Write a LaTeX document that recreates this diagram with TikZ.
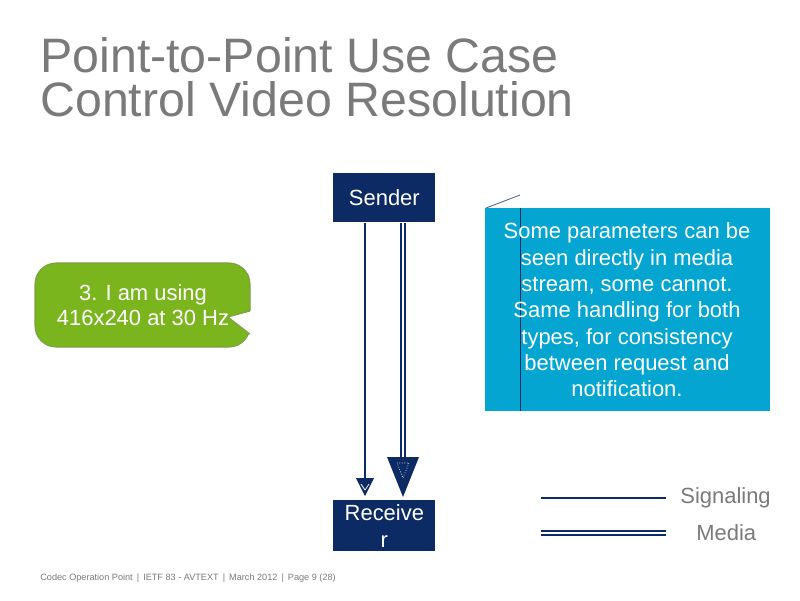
\documentclass[tikz,border=0pt]{standalone}
\usepackage{fontspec}
\setmainfont{Liberation Sans}
\definecolor{navy}{HTML}{0C2A63}
\definecolor{leaf}{HTML}{7AB51E}
\definecolor{sky}{HTML}{05A5D2}
\definecolor{titlegray}{HTML}{7A7A7A}
\begin{document}
\begin{tikzpicture}[x=0.02cm,y=-0.02cm,line join=round,>=stealth]
	\tikzset{box/.style={fill=navy,text=white,font=\fontsize{12.5}{15}\selectfont,inner sep=0pt,anchor=north west},
		media/.style={draw=navy,double=white,double distance=1.6pt,line width=0.9pt},
		txt/.style={text=white,font=\fontsize{12.5}{15}\selectfont,align=center}}
	\useasboundingbox[fill=white] (0,0) rectangle (800,600);
	% title
	\node[anchor=north west,text=titlegray,font=\fontsize{27.5}{25}\selectfont,align=left,inner sep=0pt] (title) at (40,37) {Point-to-Point Use Case\\Control Video Resolution};
	% sender and receiver
	\node[box,minimum width=102*0.02cm,minimum height=49*0.02cm] (sender) at (333,173) {Sender};
	\node[box,minimum width=102*0.02cm,minimum height=51*0.02cm,align=center] (receiver) at (333,500) {Receive\\r};
	\coordinate (sigtip) at (365,496);
	\coordinate (medtip) at (403,497);
	\draw[navy,line width=1.6pt] (sender.south -| sigtip) -- (365,480);
	\fill[navy] (356,478) -- (374,478) -- (sigtip) -- cycle;
	\draw[white,line width=0.4pt] (361,484) -- (365,490) -- (369,484);
	\draw[media] (sender.south -| medtip) -- (403,459);
	\fill[navy] (387,457) -- (419,457) -- (medtip) -- cycle;
	\draw[white,line width=0.4pt,densely dotted] (397,463) -- (409,463) -- (403,478) -- cycle;
	% green callout
	\draw[fill=leaf,draw=leaf!60!gray,line width=0.6pt,rounded corners=12] (35,263) rectangle (250,347);
	\fill[white] (251,311) -- (228,317) -- (251,335) -- cycle;
	\draw[leaf!60!gray,line width=0.6pt] (250,311) -- (228,317) -- (250,334);
	\node[txt,font=\fontsize{12.5}{14.3}\selectfont] (using) at (143,305) {3. I am using\\416x240 at 30 Hz};
	% blue note
	\fill[sky] (485,208) rectangle (770,411);
	\draw[navy,line width=0.5pt] (520,208) -- (520,411);
	\draw[navy!70,line width=0.5pt] (486,208) -- (520,195);
	\node[txt] (note) at (627,310) {Some parameters can be\\seen directly in media\\stream, some cannot.\\Same handling for both\\types, for consistency\\between request and\\notification.};
	% legend
	\node[anchor=west,text=titlegray,font=\fontsize{12.5}{15}\selectfont,inner sep=0pt] (siglabel) at (680,498) {Signaling};
	\node[anchor=west,text=titlegray,font=\fontsize{12.5}{15}\selectfont,inner sep=0pt] (medlabel) at (696,533) {Media};
	\draw[navy,line width=1.6pt] (541,498) -- (666,498);
	\draw[media] (541,533) -- (666,533);
	% footer
	\node[anchor=west,text=titlegray,font=\fontsize{5.2}{6}\selectfont,inner sep=0pt] (footer) at (40,578) {Codec Operation Point \,|\, IETF 83 - AVTEXT \,|\, March 2012 \,|\, Page 9 (28)};
\end{tikzpicture}
\end{document}
